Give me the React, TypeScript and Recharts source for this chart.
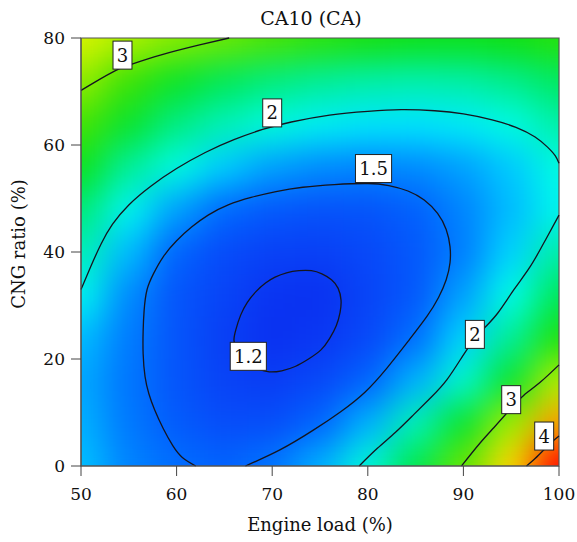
import React from 'react';
import { ComposedChart, XAxis, YAxis, Line, Scatter, ReferenceArea } from 'recharts';

// ---- grid axes (engine load %, CNG ratio %) ----
const LOAD = [50, 55, 60, 65, 70, 75, 80, 85, 90, 95, 100];
const CNG = [0, 8, 16, 24, 32, 40, 48, 56, 64, 72, 80];
const X_TICKS = [50, 60, 70, 80, 90, 100];
const Y_TICKS = [0, 20, 40, 60, 80];

// ---- CA10 values, one row per CNG ratio ----
const CA10_Y0 = [1.8, 1.6, 1.52, 1.47, 1.55, 1.75, 2.05, 2.5, 3.0, 3.8, 5.0];
const CA10_Y8 = [1.75, 1.56, 1.42, 1.33, 1.34, 1.48, 1.75, 2.15, 2.6, 3.2, 4.0];
const CA10_Y16 = [1.72, 1.55, 1.38, 1.26, 1.22, 1.3, 1.47, 1.75, 2.08, 2.6, 3.3];
const CA10_Y24 = [1.78, 1.57, 1.38, 1.23, 1.13, 1.17, 1.3, 1.52, 1.85, 2.25, 2.75];
const CA10_Y32 = [1.97, 1.62, 1.38, 1.27, 1.15, 1.13, 1.27, 1.4, 1.7, 2.0, 2.45];
const CA10_Y40 = [2.15, 1.78, 1.47, 1.32, 1.25, 1.24, 1.3, 1.4, 1.58, 1.85, 2.2];
const CA10_Y48 = [2.35, 1.97, 1.7, 1.5, 1.4, 1.36, 1.37, 1.45, 1.6, 1.78, 1.97];
const CA10_Y56 = [2.65, 2.25, 2.02, 1.83, 1.7, 1.63, 1.6, 1.62, 1.7, 1.82, 2.02];
const CA10_Y64 = [2.88, 2.6, 2.32, 2.15, 2.03, 1.95, 1.91, 1.9, 1.93, 2.02, 2.2];
const CA10_Y72 = [3.15, 2.85, 2.62, 2.45, 2.33, 2.25, 2.2, 2.18, 2.2, 2.28, 2.42];
const CA10_Y80 = [3.5, 3.28, 3.12, 3.02, 2.9, 2.8, 2.73, 2.68, 2.67, 2.7, 2.78];
const CA10_ROWS = [CA10_Y0, CA10_Y8, CA10_Y16, CA10_Y24, CA10_Y32, CA10_Y40, CA10_Y48, CA10_Y56, CA10_Y64, CA10_Y72, CA10_Y80];

// ---- contour lines ([load, cng]) ----
const C1_2: [number, number][] = [[66.2, 22], [67.3, 19.3], [68.5, 18.1], [69.7, 17.6], [71, 17.8], [72.4, 18.6], [73.8, 20], [75.1, 21.7], [76, 23.8], [76.7, 26.2], [77.1, 28.7], [77.2, 31], [76.9, 33.2], [76.2, 34.8], [75.2, 35.9], [74.1, 36.5], [72.8, 36.5], [71.5, 36.1], [70.3, 35.3], [69.3, 34.2], [68.3, 32.6], [67.4, 30.6], [66.7, 28.2], [66.2, 25.5], [66, 23.5], [66.2, 22]];
const C1_5: [number, number][] = [[67.2, 0], [70.8, 3.0], [74.3, 6.7], [77.2, 10.2], [79.7, 13.8], [82, 18.3], [84.3, 23.5], [86.2, 28], [87.4, 31.5], [88.2, 34.8], [88.6, 38], [88.6, 41], [88.2, 44.2], [87.3, 47.2], [85.9, 49.7], [84.2, 51.4], [82.2, 52.4], [80, 52.8], [76.5, 52.6], [73.2, 52.1], [70.4, 51.3], [67.8, 50.2], [65.4, 48.8], [63.3, 46.9], [61.6, 44.7], [60, 42.1], [58.6, 39.1], [57.6, 36], [56.9, 32.9], [56.6, 29], [56.5, 25.2], [56.5, 21], [56.7, 16.7], [57.1, 13.5], [57.7, 10.5], [58.6, 7], [59.6, 3.8], [60.6, 1.6], [62, 0]];
const C2_UPPER: [number, number][] = [[50, 33], [51, 37.2], [52.1, 41.5], [53.3, 45.2], [55, 48.8], [57.3, 52.3], [60, 55.6], [63, 58.6], [66, 61], [69, 62.9], [72, 64.3], [76, 65.6], [80, 66.3], [83.5, 66.6], [87, 66.4], [90, 65.8], [93, 64.7], [95.5, 63.3], [97.5, 61.5], [98.8, 59.6], [99.6, 58], [100, 56.6]];
const C2_LOWER: [number, number][] = [[100, 46.9], [98.6, 42.3], [97, 37.3], [95.3, 33], [93.6, 28.6], [92.2, 25.8], [91, 23.3], [89.9, 20.5], [88.3, 16.2], [86.6, 12.8], [84.8, 9.6], [82.9, 6.3], [81, 3.3], [79.1, 0]];
const C3_UPPER: [number, number][] = [[50, 70.2], [51.5, 71.8], [53.6, 73.9], [55.3, 75.1], [58.3, 76.8], [62.4, 78.7], [65.5, 80]];
const C3_LOWER: [number, number][] = [[89.8, 0], [91.7, 4.2], [93.2, 7.2], [95, 10.8], [96.3, 13.2], [98, 15.6], [100, 18.9]];
const C4: [number, number][] = [[96.6, 0], [97.5, 1.4], [98.4, 3.0], [99.2, 4.4], [100, 5.6]];
const CONTOURS = [C1_2, C1_5, C2_UPPER, C2_LOWER, C3_UPPER, C3_LOWER, C4];

const LABEL_TEXT = ['3', '2', '1.5', '1.2', '2', '3', '4'];
const LABEL_LOAD = [54.34, 70.0, 80.6, 67.5, 91.2, 95.0, 98.45];
const LABEL_CNG = [76.8, 66.0, 55.6, 20.5, 24.6, 12.4, 5.6];

// ---- colour scale (jet-like) ----
const COLOR_STOPS: [number, string][] = [
  [1.0, '#0a1ee6'], [1.15, '#0a34f2'], [1.3, '#0848f8'], [1.5, '#0068ff'], [1.7, '#00a0ff'],
  [1.9, '#00e4ff'], [2.0, '#00fce8'], [2.2, '#00f0a8'], [2.45, '#00e858'], [2.7, '#10e010'],
  [2.95, '#58e400'], [3.2, '#a0ee00'], [3.45, '#d0f400'], [3.7, '#fff000'], [3.9, '#ffc000'],
  [4.1, '#ff8000'], [4.35, '#ff3800'], [4.6, '#ff0000'],
];
const hex = (h: string) => [1, 3, 5].map((i) => parseInt(h.slice(i, i + 2), 16));
function colorFor(v: number): string {
  if (v <= COLOR_STOPS[0][0]) return COLOR_STOPS[0][1];
  for (let i = 1; i < COLOR_STOPS.length; i++) {
    const [v1, c1] = COLOR_STOPS[i];
    if (v <= v1) {
      const [v0, c0] = COLOR_STOPS[i - 1];
      const t = (v - v0) / (v1 - v0);
      const a = hex(c0), b = hex(c1);
      const m = a.map((ai, k) => Math.round(ai + (b[k] - ai) * t));
      return `rgb(${m[0]},${m[1]},${m[2]})`;
    }
  }
  return COLOR_STOPS[COLOR_STOPS.length - 1][1];
}

// ---- layout ----
const W = 577, H = 542;
const M = { top: 38, right: 18, bottom: 0, left: 0 };
const Y_AXIS_W = 81, X_AXIS_H = 76;
const PLOT_X = M.left + Y_AXIS_W, PLOT_Y = M.top;
const PLOT_W = W - M.right - PLOT_X, PLOT_H = H - X_AXIS_H - PLOT_Y;
const CELL_W = PLOT_W / (LOAD.length - 1);
const CELL_H = PLOT_H / (CNG.length - 1);
const SERIF = "'DejaVu Serif', serif";

const heatData = CNG.flatMap((y, i) => LOAD.map((x, j) => ({ x, y, v: CA10_ROWS[i][j] })));
const contourData = CONTOURS.map((c) => c.map(([x, y]) => ({ x, y })));
const labelData = LABEL_TEXT.map((t, i) => ({ x: LABEL_LOAD[i], y: LABEL_CNG[i], t }));

const FS = 18;
const charW = (ch: string) => (ch === '.' ? 0.318 : 0.636) * FS;

const HeatCell = (p: any) => {
  const v = p.payload ? p.payload.v : p.v;
  return <rect x={p.cx - CELL_W / 2 - 0.5} y={p.cy - CELL_H / 2 - 0.5} width={CELL_W + 1} height={CELL_H + 1} fill={colorFor(v)} />;
};

const LabelBox = (p: any) => {
  const t: string = p.payload ? p.payload.t : p.t;
  const tw = t.split('').reduce((s, c) => s + charW(c), 0);
  const bw = tw + 7.5, bh = 28;
  return (
    <g>
      <rect x={p.cx - bw / 2} y={p.cy - bh / 2} width={bw} height={bh} fill="#fff" stroke="#222" strokeWidth={1} />
      <text x={p.cx} y={p.cy + 0.3645 * FS} textAnchor="middle" fontFamily={SERIF} fontSize={FS} fill="#111">{t}</text>
    </g>
  );
};

const tickStyle = { fontFamily: SERIF, fontSize: 17, fill: '#111' };

export default function App() {
  return (
    <div style={{ position: 'absolute', left: 0, top: 0, width: W, height: H, background: '#fff' }}>
      <style>{`.heat-layer { filter: url(#heatBlur); clip-path: url(#plotClip); }`}</style>
      <svg width={0} height={0} style={{ position: 'absolute' }}>
        <defs>
          <filter id="heatBlur" x="-20%" y="-20%" width="140%" height="140%" colorInterpolationFilters="sRGB">
            <feGaussianBlur stdDeviation="17" />
            <feComponentTransfer>
              <feFuncA type="linear" slope="30" intercept="0" />
            </feComponentTransfer>
          </filter>
          <clipPath id="plotClip" clipPathUnits="userSpaceOnUse">
            <rect x={PLOT_X} y={PLOT_Y} width={PLOT_W} height={PLOT_H} />
          </clipPath>
        </defs>
      </svg>
      <ComposedChart width={W} height={H} margin={M}>
        <XAxis
          type="number"
          dataKey="x"
          domain={[50, 100]}
          ticks={X_TICKS}
          height={X_AXIS_H}
          tickSize={10}
          tickMargin={12}
          tick={tickStyle}
          stroke="#555"
          tickLine={{ stroke: '#444' }}
          label={{ value: 'Engine load (%)', position: 'insideBottom', offset: 11, fill: '#111', fontSize: 18, fontFamily: SERIF }}
        />
        <YAxis
          type="number"
          dataKey="y"
          domain={[0, 80]}
          ticks={Y_TICKS}
          width={Y_AXIS_W}
          tickSize={10}
          tickMargin={6}
          tick={tickStyle}
          stroke="#555"
          tickLine={{ stroke: '#444' }}
          label={{
            content: () => (
              <text x={18} y={244} transform="rotate(-90 18 244)" textAnchor="middle" dominantBaseline="central" fontFamily={SERIF} fontSize={18} fill="#111">
                CNG ratio (%)
              </text>
            ),
          }}
        />
        <Scatter className="heat-layer" data={heatData} shape={HeatCell} isAnimationActive={false} zIndex={50} />
        {contourData.map((d, i) => (
          <Line key={i} data={d} dataKey="y" type="natural" stroke="#15151f" strokeWidth={1.3} dot={false} activeDot={false} isAnimationActive={false} />
        ))}
        <Scatter data={labelData} shape={LabelBox} isAnimationActive={false} zIndex={1500} />
        <ReferenceArea x1={50} x2={100} y1={0} y2={80} fill="none" stroke="#555" strokeWidth={1.2} />
      </ComposedChart>
      <svg width={W} height={40} style={{ position: 'absolute', left: 0, top: 0 }}>
        <text x={311} y={25} textAnchor="middle" fontFamily={SERIF} fontSize={19} fill="#111">CA10 (CA)</text>
      </svg>
    </div>
  );
}
